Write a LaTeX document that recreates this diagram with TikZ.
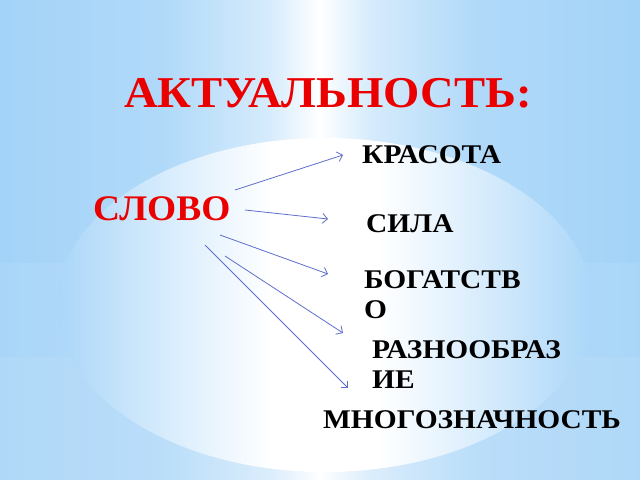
\documentclass[tikz,border=0pt]{standalone}
\usepackage{fontspec}
\setmainfont{Liberation Serif}
\usetikzlibrary{arrows.meta, calc}

\definecolor{bgblue}{RGB}{163,211,248}
\definecolor{arrowblue}{RGB}{95,110,205}
\definecolor{titlered}{RGB}{235,0,0}

\pgfdeclarehorizontalshading{sky}{100bp}{color(0bp)=(bgblue); color(25bp)=(bgblue);
  color(38bp)=(bgblue!85!white); color(46bp)=(bgblue!45!white); color(50bp)=(white);
  color(54bp)=(bgblue!45!white); color(62bp)=(bgblue!85!white); color(75bp)=(bgblue);
  color(100bp)=(bgblue)}
\pgfdeclarehorizontalshading{glow}{100bp}{color(0bp)=(bgblue!92!white); color(25bp)=(bgblue!92!white);
  color(37bp)=(bgblue!35!white); color(45bp)=(white); color(55bp)=(white);
  color(63bp)=(bgblue!35!white); color(75bp)=(bgblue!92!white); color(100bp)=(bgblue!92!white)}

\begin{document}
\begin{tikzpicture}[x=1bp,y=-1bp,>={Straight Barb[length=5bp,width=10bp]},
    title/.style={anchor=base west,inner sep=0pt,text=titlered,
      font=\bfseries\fontsize{44bp}{48bp}\selectfont\addfontfeatures{FakeStretch=1.06}},
    key/.style={anchor=base west,inner sep=0pt,text=titlered,
      font=\bfseries\fontsize{36bp}{40bp}\selectfont\addfontfeatures{FakeStretch=1.04}},
    word/.style={anchor=base west,inner sep=0pt,align=left,
      font=\bfseries\fontsize{27bp}{30bp}\selectfont\addfontfeatures{FakeStretch=1.09}}]
    \useasboundingbox (0,0) rectangle (640,480);

    % background
    \shade[shading=sky] (0,0) rectangle (640,480);
    \fill[white,opacity=0.07] (0,263) rectangle (640,480);
    \fill[white,opacity=0.07] (0,357) rectangle (640,480);
    \shade[shading=glow] (325,305) ellipse [x radius=268, y radius=167];

    \node[title] (title) at (124,108) {АКТУАЛЬНОСТЬ:};
    \node[key] (slovo) at (93,221) {СЛОВО};

    % base anchor sits on the last line
    \node[word] (krasota) at (362,164) {КРАСОТА};
    \node[word] (sila) at (366,233) {СИЛА};
    \node[word] (bogatstvo) at (364,318) {БОГАТСТВ\\О};
    \node[word] (raznoobrazie) at (372,388) {РАЗНООБРАЗ\\ИЕ};
    \node[word] (mnogozn) at (323,428) {МНОГОЗНАЧНОСТЬ};

    \coordinate (s1) at (235,190); \coordinate (e1) at (343,155);
    \coordinate (s2) at (245,210); \coordinate (e2) at (328,219);
    \coordinate (s3) at (220,235); \coordinate (e3) at (328,274);
    \coordinate (s4) at (225,256); \coordinate (e4) at (343,333);
    \coordinate (s5) at (205,245); \coordinate (e5) at (348,388);

    \path[->,arrowblue,line width=0.8bp]
    (s1) edge (e1)
    (s2) edge (e2)
    (s3) edge (e3)
    (s4) edge (e4)
    (s5) edge (e5)
    ;
\end{tikzpicture}
\end{document}
